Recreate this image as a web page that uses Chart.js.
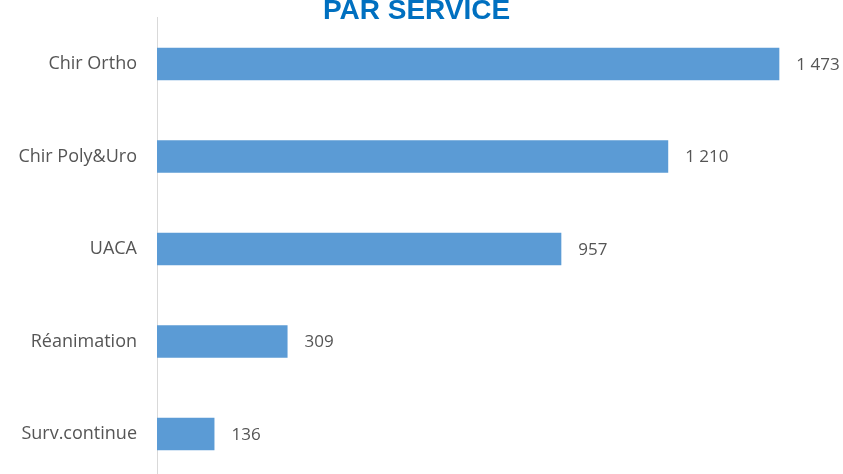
<!DOCTYPE html>
<html lang="fr">
<head>
<meta charset="utf-8">
<title>Par service</title>
<script src="https://cdn.jsdelivr.net/npm/chart.js@4.4.1/dist/chart.umd.min.js"></script>
<style>
  html, body { margin: 0; padding: 0; background: #fff; }
  body { width: 843px; height: 474px; overflow: hidden; position: relative; }
  /* canvas is taller than the page; title top and last band are clipped */
  #serviceChart { position: absolute; left: 0; top: -13px; }
</style>
</head>
<body>
<canvas id="serviceChart" width="843" height="524"></canvas>
<script>
// === DATA ===
const services = ['Chir Ortho', 'Chir Poly&Uro', 'UACA', 'Réanimation', 'Surv.continue'];
const counts = [1473, 1210, 957, 309, 136];
const titleText = 'PAR SERVICE';

// french thousands separator: 1473 -> "1 473"
const fmt = v => String(v).replace(/\B(?=(\d{3})+(?!\d))/g, ' ');

const catFont = { family: "'Open Sans', sans-serif", size: 18 };
const valFont = { family: "'Open Sans', sans-serif", size: 17 };
const textColor = '#555555';

// value labels to the right of each bar
const valueLabels = {
    id: 'valueLabels',
    afterDatasetsDraw(chart) {
        const { ctx } = chart;
        const meta = chart.getDatasetMeta(0);
        ctx.save();
        ctx.font = `${valFont.size}px ${valFont.family}`;
        ctx.fillStyle = textColor;
        ctx.textAlign = 'left';
        ctx.textBaseline = 'middle';
        meta.data.forEach((bar, i) => {
            ctx.fillText(fmt(counts[i]), bar.x + 17, bar.y + 1);
        });
        ctx.restore();
    }
};

new Chart(document.getElementById('serviceChart'), {
    type: 'bar',
    data: {
        labels: services,
        datasets: [{
            data: counts,
            backgroundColor: '#5b9bd5',
            borderWidth: 0,
            categoryPercentage: 1,
            barPercentage: 0.35
        }]
    },
    options: {
        indexAxis: 'y',
        responsive: false,
        animation: false,
        layout: { padding: { left: 0, right: 10, top: 3, bottom: 6 } },
        plugins: {
            legend: { display: false },
            tooltip: { enabled: false },
            title: {
                display: true,
                text: titleText,
                color: '#0070c0',
                font: { family: "'Liberation Sans', Arial, sans-serif", size: 28, weight: 'bold', lineHeight: 0.5 },
                padding: { top: 0, bottom: 0 }
            }
        },
        scales: {
            x: { display: false, min: 0, max: 1600 },
            y: {
                grid: { display: false, drawTicks: false },
                border: { display: true, color: '#d9d9d9', width: 1 },
                ticks: { color: textColor, font: catFont, padding: 20 },
                afterFit: scale => { scale.width = 157; }
            }
        }
    },
    plugins: [valueLabels]
});
</script>
</body>
</html>
